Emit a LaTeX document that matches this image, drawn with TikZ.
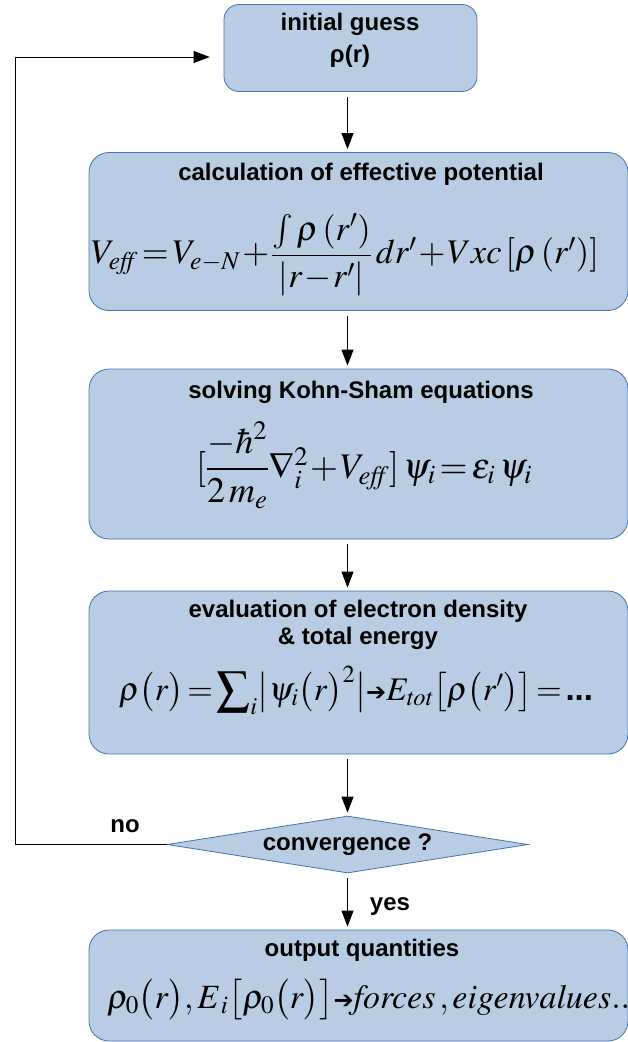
\documentclass[tikz,border=0pt]{standalone}
\usepackage{amsmath}
\usepackage{mathptmx}
\usepackage[no-math]{fontspec}
\setsansfont{Liberation Sans}
\newfontfamily\arrowfont{DejaVu Sans}
\usepackage{tikz}
\usetikzlibrary{arrows.meta,positioning,shapes.geometric}
\definecolor{boxfill}{RGB}{184,205,228}
\definecolor{boxline}{RGB}{69,114,176}
\medmuskip=1mu
\thickmuskip=2mu
\newcommand{\thickto}{\text{\arrowfont\fontsize{24}{24}\selectfont ➔}}
\tikzset{
  stage/.style={draw=boxline, fill=boxfill, line width=0.8pt, rounded corners=20pt,
                inner sep=0pt, minimum width=539pt},
  head/.style={font=\fontsize{24}{27}\selectfont\sffamily\bfseries, align=center},
  eqn/.style={font=\fontsize{#1}{40}\selectfont, inner sep=0pt},
  eqn/.default=36,
  flow/.style={-{Triangle[length=16pt,width=12pt]}, line width=0.9pt,
               shorten <=5pt, shorten >=3pt},
  check/.style={diamond, draw=boxline, fill=boxfill, line width=0.8pt, aspect=6.3,
                inner sep=0pt, minimum width=361pt, minimum height=57pt},
}

\begin{document}
\begin{tikzpicture}[x=1pt,y=-1pt]
  \useasboundingbox (0,0) rectangle (628,1042);
  \node[stage, rounded corners=15pt, minimum width=253pt, minimum height=87pt] (init) at (350.5,48) {};
  \node[head, font=\fontsize{24}{32}\selectfont\sffamily\bfseries] (initT) at (350,40) {initial guess\\ρ(r)};

  \node[stage, minimum height=158pt] (pot) at (358.5,231.5) {};
  \node[head] (potT) at (361,174) {calculation of effective potential};
  \node[eqn=34.5] (potE) at (345,255)
    {$V_{\mathit{eff}}=V_{e-N}+\dfrac{\int\rho\left(r'\right)}{\left|r-r'\right|}\,dr'+Vxc\left[\rho\left(r'\right)\right]$};

  \node[stage, minimum height=170pt] (ks) at (358.5,454) {};
  \node[head] (ksT) at (361,392) {solving Kohn-Sham equations};
  \node[eqn] (ksE) at (364,465)
    {$[\dfrac{-\hbar^{2}}{2\,m_{e}}\nabla_{i}^{2}+V_{\mathit{eff}}]\,\psi_{i}=\epsilon_{i}\,\psi_{i}$};

  \node[stage, minimum height=163pt] (dens) at (358.5,672.5) {};
  \node[head] (densT) at (358,625) {evaluation of electron density\\\& total energy};
  \node[eqn=33] (densE) at (356,690)
    {$\rho\bigl(r\bigr)=\displaystyle\sum\nolimits_{i}\bigl|\psi_{i}\bigl(r\bigr)^{2}\bigr|\thickto E_{\mathit{tot}}\bigl[\rho\bigl(r'\bigr)\bigr]=\text{\sffamily\bfseries ...}$};

  \node[check, head] (dec) at (347.5,844.5) {convergence ?};

  \node[stage, minimum height=111pt] (out) at (358.5,985.5) {};
  \node[head] (outT) at (362,950) {output quantities};
  \node[eqn=34, anchor=west] (outE) at (107,1000)
    {$\rho_{0}\bigl(r\bigr),E_{\,i}\bigl[\rho_{0}\bigl(r\bigr)\bigr]\thickto\mathit{forces}\,,\mathit{eigenvalues}...$};

  \node[head] (no) at (125,826) {no};
  \node[head] (yes) at (390,907) {yes};

  \coordinate (loop) at (15,57);
  \draw[flow] (init.south -| dec.north) -- (pot.north -| dec.north);
  \draw[flow] (pot.south -| dec.north) -- (ks.north -| dec.north);
  \draw[flow] (ks.south -| dec.north) -- (dens.north -| dec.north);
  \draw[flow] (dens.south -| dec.north) -- (dec);
  \draw[flow] (dec) -- (dec.south |- out.north);
  \draw[flow, shorten <=0pt, shorten >=14pt] (dec.west) -| (loop) -- (loop -| init.west);
\end{tikzpicture}
\end{document}
